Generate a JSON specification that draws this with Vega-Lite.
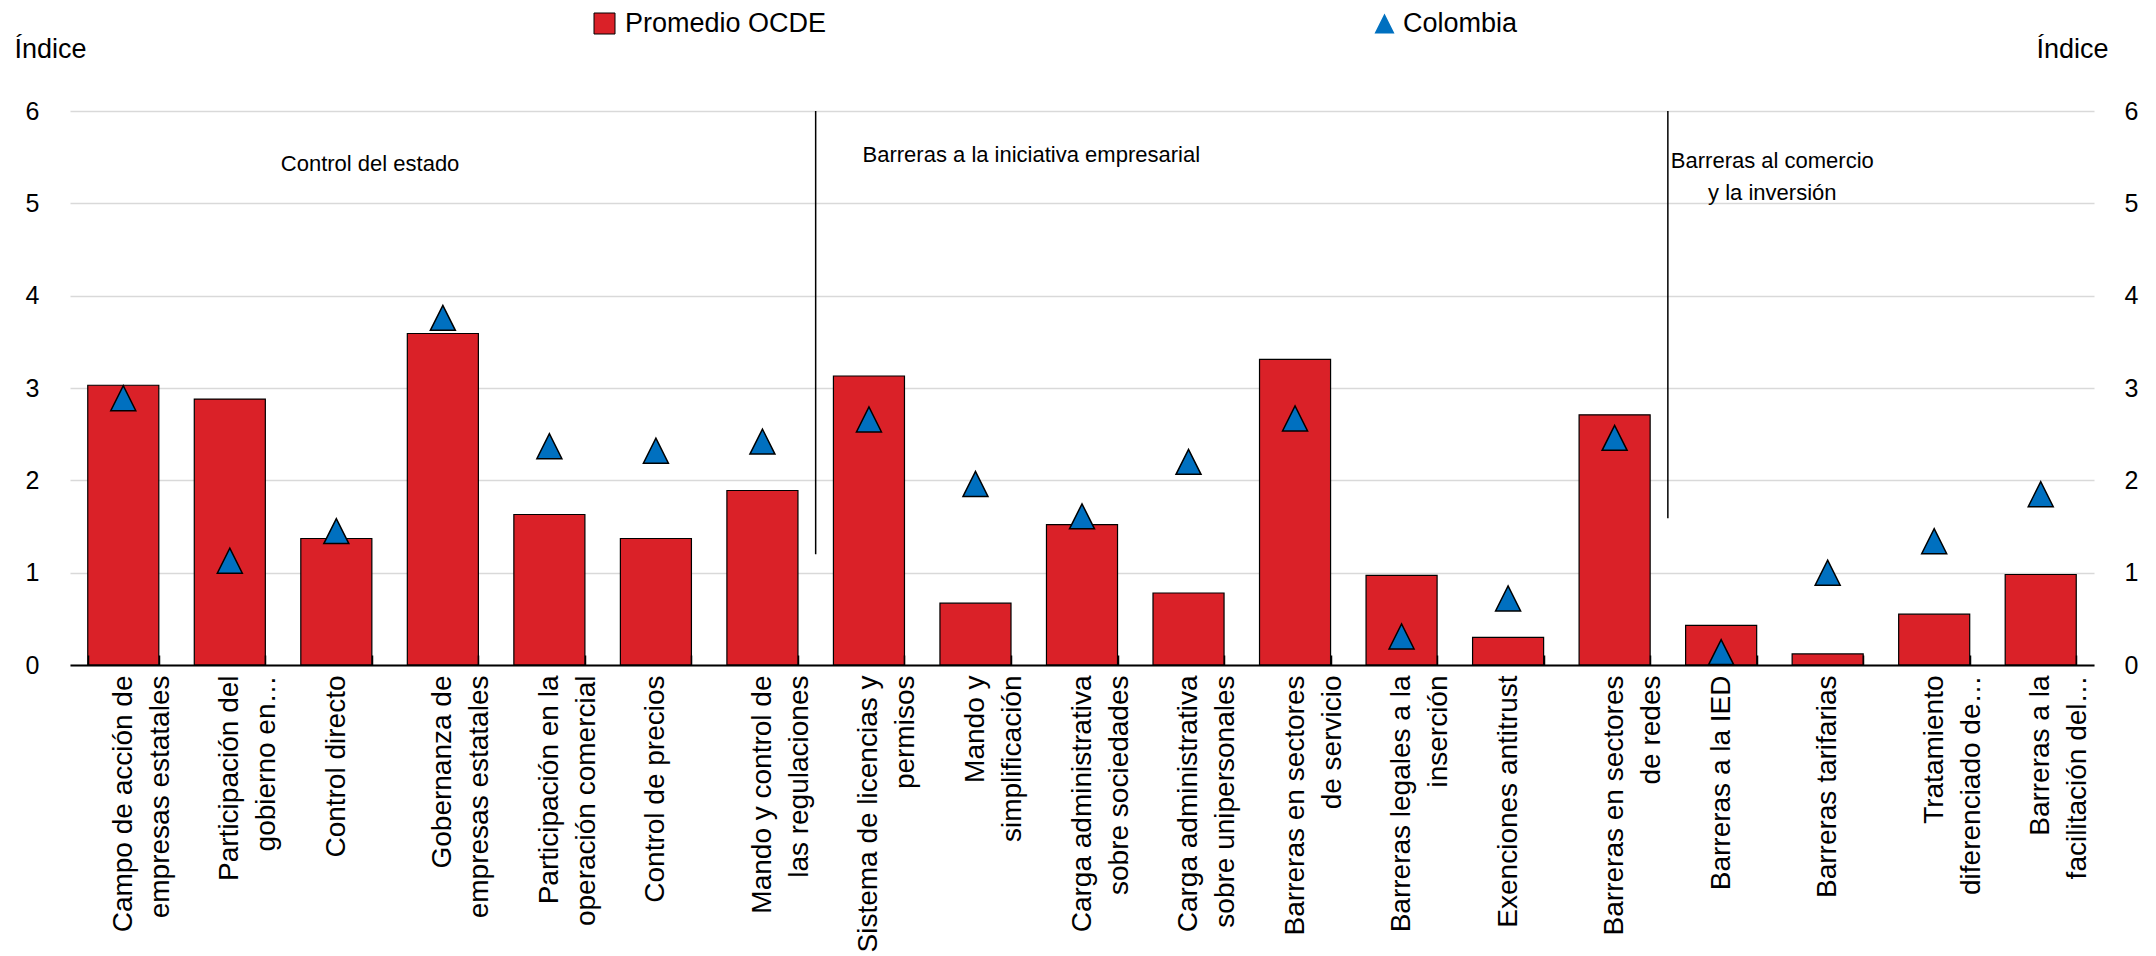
{
  "$schema": "https://vega.github.io/schema/vega-lite/v6.json",
  "width": 2024,
  "height": 554,
  "autosize": {"type": "none"},
  "padding": {"left": 70, "top": 111, "right": 62, "bottom": 291},
  "background": "white",
  "config": {"view": {"stroke": null}, "font": "Liberation Sans"},
  "datasets": {
    "main": [
      {"cat": "Campo de acción de|empresas estatales", "ocde": 3.03, "col": 2.89},
      {"cat": "Participación del|gobierno en…", "ocde": 2.88, "col": 1.13},
      {"cat": "Control directo", "ocde": 1.37, "col": 1.45},
      {"cat": "Gobernanza de|empresas estatales", "ocde": 3.59, "col": 3.76},
      {"cat": "Participación en la|operación comercial", "ocde": 1.63, "col": 2.37},
      {"cat": "Control de precios", "ocde": 1.37, "col": 2.32},
      {"cat": "Mando y control de|las regulaciones", "ocde": 1.89, "col": 2.42},
      {"cat": "Sistema de licencias y|permisos", "ocde": 3.13, "col": 2.66},
      {"cat": "Mando y|simplificación", "ocde": 0.67, "col": 1.96},
      {"cat": "Carga administrativa|sobre sociedades", "ocde": 1.52, "col": 1.61},
      {"cat": "Carga administrativa|sobre unipersonales", "ocde": 0.78, "col": 2.2},
      {"cat": "Barreras en sectores|de servicio", "ocde": 3.31, "col": 2.67},
      {"cat": "Barreras legales a la|inserción", "ocde": 0.97, "col": 0.31},
      {"cat": "Exenciones antitrust", "ocde": 0.3, "col": 0.72},
      {"cat": "Barreras en sectores|de redes", "ocde": 2.71, "col": 2.46},
      {"cat": "Barreras a la IED", "ocde": 0.43, "col": 0.14},
      {"cat": "Barreras tarifarias", "ocde": 0.12, "col": 1.0},
      {"cat": "Tratamiento|diferenciado de…", "ocde": 0.55, "col": 1.34},
      {"cat": "Barreras a la|facilitación del…", "ocde": 0.98, "col": 1.85}
    ],
    "seps": [
      {"cat": "Sistema de licencias y|permisos", "y1": 1.2, "y2": 6},
      {"cat": "Barreras a la IED", "y1": 1.59, "y2": 6}
    ],
    "note1": [{"cat": "Control directo", "y": 5.43, "label": "Control del estado"}],
    "note2": [{"cat": "Sistema de licencias y|permisos", "y": 5.52, "label": "Barreras a la iniciativa empresarial"}],
    "note3": [{"cat": "Barreras a la IED", "y": 5.46, "label": ["Barreras al comercio", "y la inversión"]}]
  },
  "layer": [
    {
      "data": {"name": "main"},
      "mark": {"type": "bar", "stroke": "#000000", "strokeWidth": 1.2},
      "encoding": {
        "x": {
          "field": "cat", "type": "nominal", "sort": null,
          "scale": {"paddingInner": 0.333, "paddingOuter": 0.1667},
          "axis": {
            "title": null, "labelAngle": -90, "labelAlign": "right", "labelBaseline": "middle",
            "labelFont": "Liberation Sans", "labelFontSize": 28, "labelLineHeight": 37,
            "labelColor": "#000000", "labelPadding": 20, "labelLimit": 1000, "labelOverlap": false,
            "labelExpr": "split(datum.label, '|')",
            "domain": true, "ticks": true,
            "domainColor": "#000000", "domainWidth": 2, "tickColor": "#000000", "tickWidth": 1.5,
            "tickSize": -10, "tickBand": "extent", "zindex": 1
          }
        },
        "y": {
          "field": "ocde", "type": "quantitative",
          "scale": {"domain": [0, 6], "nice": false},
          "axis": {
            "orient": "left", "values": [0, 1, 2, 3, 4, 5, 6], "domain": false, "ticks": false,
            "grid": true, "gridColor": "#D9D9D9", "gridWidth": 1.5,
            "labelFont": "Liberation Sans", "labelFontSize": 25, "labelColor": "#000000", "labelPadding": 31,
            "title": "Índice", "titleAngle": 0, "titleX": -56, "titleY": -62, "titleAlign": "left",
            "titleBaseline": "middle", "titleFont": "Liberation Sans", "titleFontSize": 27,
            "titleFontWeight": "normal", "titleColor": "#000000"
          }
        },
        "color": {
          "datum": "Promedio OCDE",
          "scale": {"domain": ["Promedio OCDE"], "range": ["#DA2128"]},
          "legend": {
            "orient": "none", "legendX": 521, "legendY": -101, "title": null,
            "symbolType": "square", "symbolSize": 441, "symbolStrokeColor": "#000000",
            "symbolStrokeWidth": 1, "symbolOpacity": 1, "labelFont": "Liberation Sans",
            "labelFontSize": 27, "labelColor": "#000000", "labelOffset": 7, "labelLimit": 500
          }
        }
      }
    },
    {
      "data": {"name": "main"},
      "mark": {"type": "point", "filled": true, "fill": "#0070C0", "stroke": "#000000", "strokeWidth": 1.5, "size": 625, "opacity": 1},
      "encoding": {
        "x": {"field": "cat", "type": "nominal", "sort": null},
        "y": {
          "field": "col", "type": "quantitative",
          "scale": {"domain": [0, 6], "nice": false},
          "axis": {
            "orient": "right", "values": [0, 1, 2, 3, 4, 5, 6], "domain": false, "ticks": false, "grid": false,
            "labelFont": "Liberation Sans", "labelFontSize": 25, "labelColor": "#000000", "labelPadding": 30,
            "title": "Índice", "titleAngle": 0, "titleX": -58, "titleY": -62, "titleAlign": "left",
            "titleBaseline": "middle", "titleFont": "Liberation Sans", "titleFontSize": 27,
            "titleFontWeight": "normal", "titleColor": "#000000"
          }
        },
        "shape": {
          "datum": "Colombia",
          "scale": {"domain": ["Colombia"], "range": ["M-1,1L1,1L0,-1Z"]},
          "legend": {
            "orient": "none", "legendX": 1301, "legendY": -101, "title": null,
            "symbolSize": 400, "symbolFillColor": "#0070C0", "symbolStrokeColor": "#000000",
            "symbolStrokeWidth": 1.5, "symbolOpacity": 1, "labelFont": "Liberation Sans",
            "labelFontSize": 27, "labelColor": "#000000", "labelOffset": 5, "labelLimit": 500
          }
        }
      }
    },
    {
      "data": {"name": "seps"},
      "mark": {"type": "rule", "stroke": "#000000", "strokeWidth": 1.5},
      "encoding": {
        "x": {"field": "cat", "type": "nominal", "sort": null, "bandPosition": -0.25},
        "y": {"field": "y1", "type": "quantitative", "scale": {"domain": [0, 6], "nice": false}, "axis": null},
        "y2": {"field": "y2"}
      }
    },
    {
      "data": {"name": "note1"},
      "mark": {"type": "text", "align": "center", "baseline": "middle", "font": "Liberation Sans", "fontSize": 22, "color": "#000000"},
      "encoding": {
        "x": {"field": "cat", "type": "nominal", "sort": null, "bandPosition": 0.975},
        "y": {"field": "y", "type": "quantitative", "scale": {"domain": [0, 6], "nice": false}, "axis": null},
        "text": {"field": "label"}
      }
    },
    {
      "data": {"name": "note2"},
      "mark": {"type": "text", "align": "left", "baseline": "middle", "font": "Liberation Sans", "fontSize": 22, "color": "#000000"},
      "encoding": {
        "x": {"field": "cat", "type": "nominal", "sort": null, "bandPosition": 0.41},
        "y": {"field": "y", "type": "quantitative", "scale": {"domain": [0, 6], "nice": false}, "axis": null},
        "text": {"field": "label"}
      }
    },
    {
      "data": {"name": "note3"},
      "mark": {"type": "text", "align": "center", "baseline": "middle", "font": "Liberation Sans", "fontSize": 22, "lineHeight": 32, "color": "#000000"},
      "encoding": {
        "x": {"field": "cat", "type": "nominal", "sort": null, "bandPosition": 1.22},
        "y": {"field": "y", "type": "quantitative", "scale": {"domain": [0, 6], "nice": false}, "axis": null},
        "text": {"field": "label"}
      }
    }
  ],
  "resolve": {"scale": {"y": "independent"}, "axis": {"y": "independent"}}
}
